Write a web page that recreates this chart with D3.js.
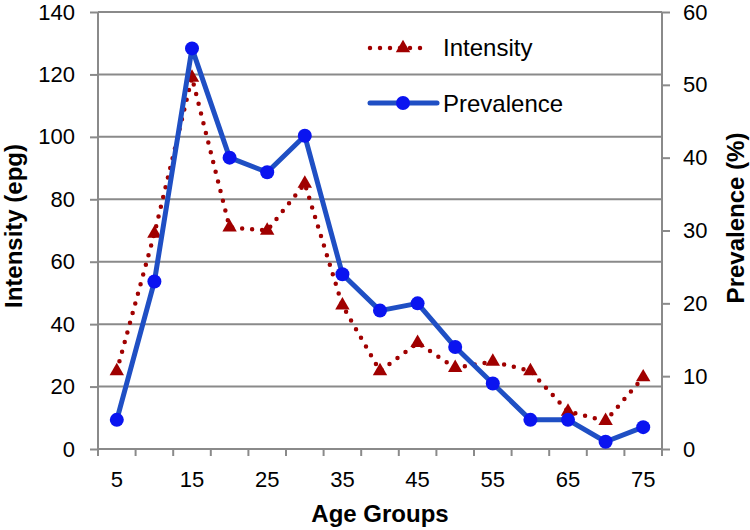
<!DOCTYPE html>
<html>
<head>
<meta charset="utf-8">
<script src="https://cdn.jsdelivr.net/npm/d3@7"></script>
<style>
  body { margin: 0; background: #fff; }
  text { font-family: "Liberation Sans", Arial, sans-serif; fill: #000; }
</style>
</head>
<body>
<script>
var ageGroups = [5, 10, 15, 20, 25, 30, 35, 40, 45, 50, 55, 60, 65, 70, 75];
var intensity = [25, 69, 119, 71, 70, 85, 46, 25, 34, 26, 28, 25, 12, 9, 23];
var prevalence = [4, 23, 55, 40, 38, 43, 24, 19, 20, 14, 9, 4, 4, 1, 3];
var leftTicks = [0, 20, 40, 60, 80, 100, 120, 140];
var rightTicks = [0, 10, 20, 30, 40, 50, 60];

(function () {
    var width = 750,
        height = 530,
        left = 98, right = 662, top = 12, bottom = 449,
        grey = '#8a8a8a',
        red = '#a00000',
        blue = '#1f4fc4',
        dotBlue = '#0a14f0';

    var svg = d3.select('body').append('svg')
        .attr('width', width)
        .attr('height', height);

    var x = d3.scaleBand().domain(ageGroups).range([left, right]).padding(0);
    var yL = d3.scaleLinear().domain([0, 140]).range([bottom, top]);
    var yR = d3.scaleLinear().domain([0, 60]).range([bottom, top]);

    // gridlines
    svg.append('g').selectAll('line').data(leftTicks.slice(1)).enter().append('line')
        .attr('x1', left).attr('x2', right)
        .attr('y1', function (d) { return yL(d); })
        .attr('y2', function (d) { return yL(d); })
        .attr('stroke', grey).attr('stroke-width', 2);

    // left axis
    var axL = svg.append('g').attr('transform', 'translate(' + left + ',0)')
        .call(d3.axisLeft(yL).tickValues(leftTicks).tickSize(8).tickPadding(15));
    axL.select('.domain').attr('stroke', grey).attr('stroke-width', 2).attr('d', 'M0,' + top + 'V' + (bottom + 7));
    axL.selectAll('.tick line').attr('stroke', grey).attr('stroke-width', 2);
    axL.selectAll('.tick text').style('font-size', '22px').style('fill', '#000')
        .style('font-family', '"Liberation Sans", Arial, sans-serif');

    // right axis
    var axR = svg.append('g').attr('transform', 'translate(' + right + ',0)')
        .call(d3.axisRight(yR).tickValues(rightTicks).tickSize(8).tickPadding(13));
    axR.select('.domain').attr('stroke', grey).attr('stroke-width', 2).attr('d', 'M0,' + top + 'V' + (bottom + 7));
    axR.selectAll('.tick line').attr('stroke', grey).attr('stroke-width', 2);
    axR.selectAll('.tick text').style('font-size', '22px').style('fill', '#000')
        .style('font-family', '"Liberation Sans", Arial, sans-serif');

    // bottom axis: ticks on band edges, labels on every other band
    var edges = ageGroups.map(function (d) { return x(d); }).concat([right]);
    svg.append('line').attr('x1', left).attr('x2', right).attr('y1', bottom).attr('y2', bottom)
        .attr('stroke', grey).attr('stroke-width', 2);
    svg.append('g').selectAll('line').data(edges).enter().append('line')
        .attr('x1', function (d) { return d; }).attr('x2', function (d) { return d; })
        .attr('y1', bottom).attr('y2', bottom + 7)
        .attr('stroke', grey).attr('stroke-width', 2);
    var axB = svg.append('g').attr('transform', 'translate(0,' + bottom + ')')
        .call(d3.axisBottom(x).tickSize(0).tickPadding(22)
            .tickValues(ageGroups.filter(function (d, i) { return i % 2 === 0; })));
    axB.select('.domain').remove();
    axB.selectAll('.tick text').style('font-size', '22px').style('fill', '#000')
        .style('font-family', '"Liberation Sans", Arial, sans-serif');

    // axis titles
    svg.append('text').attr('transform', 'translate(22,226) rotate(-90)')
        .attr('text-anchor', 'middle').style('font-size', '24px').style('font-weight', 'bold')
        .text('Intensity (epg)');
    svg.append('text').attr('transform', 'translate(744,218) rotate(-90)')
        .attr('text-anchor', 'middle').style('font-size', '24px').style('font-weight', 'bold')
        .text('Prevalence (%)');
    svg.append('text').attr('x', 380).attr('y', 522)
        .attr('text-anchor', 'middle').style('font-size', '24px').style('font-weight', 'bold')
        .text('Age Groups');

    function cx(i) { return x(ageGroups[i]) + x.bandwidth() / 2; }

    var tri = d3.symbol().type(d3.symbolTriangle).size(90);

    // Intensity: dotted red line with triangles
    var lineL = d3.line().x(function (d, i) { return cx(i); }).y(function (d) { return yL(d); });
    svg.append('path').datum(intensity).attr('d', lineL)
        .attr('fill', 'none').attr('stroke', red).attr('stroke-width', 4.5)
        .attr('stroke-linecap', 'round').attr('stroke-dasharray', '0 10');
    svg.append('g').selectAll('path').data(intensity).enter().append('path')
        .attr('d', tri)
        .attr('transform', function (d, i) { return 'translate(' + cx(i) + ',' + yL(d) + ')'; })
        .attr('fill', red);

    // Prevalence: solid blue line with circles
    var lineR = d3.line().x(function (d, i) { return cx(i); }).y(function (d) { return yR(d); });
    svg.append('path').datum(prevalence).attr('d', lineR)
        .attr('fill', 'none').attr('stroke', blue).attr('stroke-width', 5)
        .attr('stroke-linejoin', 'round');
    svg.append('g').selectAll('circle').data(prevalence).enter().append('circle')
        .attr('cx', function (d, i) { return cx(i); })
        .attr('cy', function (d) { return yR(d); })
        .attr('r', 7).attr('fill', dotBlue);

    // legend
    var lg = svg.append('g');
    lg.append('path').attr('d', 'M370,48H430')
        .attr('stroke', red).attr('stroke-width', 4.5)
        .attr('stroke-linecap', 'round').attr('stroke-dasharray', '0 10');
    lg.append('path').attr('d', tri).attr('transform', 'translate(403,48)').attr('fill', red);
    lg.append('text').attr('x', 443).attr('y', 56).style('font-size', '24px').text('Intensity');
    lg.append('path').attr('d', 'M370,103H437')
        .attr('stroke', blue).attr('stroke-width', 5).attr('stroke-linecap', 'round');
    lg.append('circle').attr('cx', 403).attr('cy', 103).attr('r', 7).attr('fill', dotBlue);
    lg.append('text').attr('x', 443).attr('y', 112).style('font-size', '24px').text('Prevalence');
}());
</script>
</body>
</html>
